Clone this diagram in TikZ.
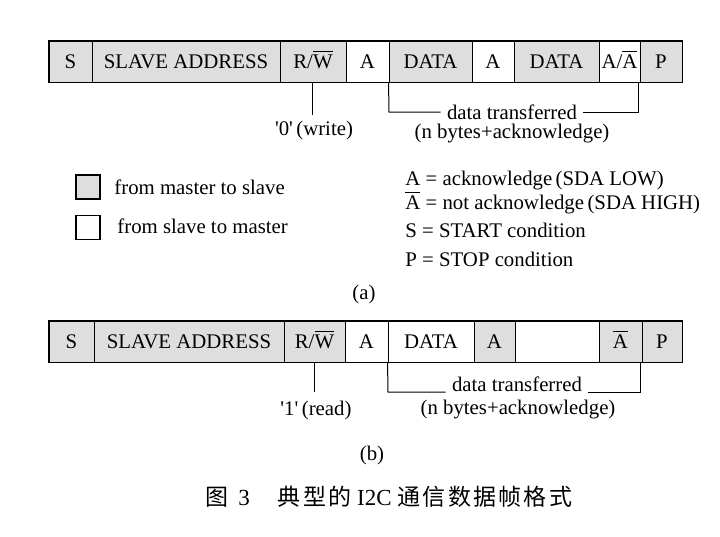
\documentclass[tikz,border=0pt]{standalone}
\usepackage{fontspec}
\setmainfont{Liberation Serif}
\newfontfamily\cjk[LetterSpace=10]{Noto Sans CJK SC}
\definecolor{cellgray}{RGB}{222,222,222}
\tikzset{
  cell/.style={draw, line width=0.45pt, minimum height=20.5pt, inner sep=0pt, anchor=center, text height=8pt, text depth=1.5pt, font=\fontsize{10.4}{12}\selectfont},
  gr/.style={fill=cellgray},
  wh/.style={fill=white},
  frame/.style={draw, line width=0.8pt},
  lbl/.style={inner sep=0pt, text height=7pt, text depth=2pt, font=\fontsize{10.4}{12}\selectfont},
  brk/.style={line width=0.5pt},
  legbox/.style={draw, line width=0.7pt, minimum size=12pt, inner sep=0pt},
}
\newcommand{\ov}[1]{$\overline{\mbox{#1}}$}
\begin{document}
\begin{tikzpicture}[x=0.5pt,y=-0.5pt]
\useasboundingbox (0,0) rectangle (720,537);
% ---- row (a)
\node[cell,gr,minimum width=21.5pt] (aS)  at (70.5,61.5) {S};
\node[cell,gr,minimum width=94pt]   (aSA) at (186,61.5) {SLAVE ADDRESS};
\node[cell,gr,minimum width=33pt]   (aRW) at (313,61.5) {R/\ov{W}};
\node[cell,wh,minimum width=21.5pt] (aA1) at (367.5,61.5) {A};
\node[cell,gr,minimum width=41.5pt] (aD1) at (430.5,61.5) {DATA};
\node[cell,wh,minimum width=21pt]   (aA2) at (493,61.5) {A};
\node[cell,gr,minimum width=42.5pt] (aD2) at (556.5,61.5) {DATA};
\node[cell,wh,minimum width=20.5pt] (aAA) at (619.5,61.5) {A/\ov{A}};
\node[cell,gr,minimum width=21pt]   (aP)  at (661,61.5) {P};
\draw[frame] (aS.north west) rectangle (aP.south east);
% stem + label
\draw[brk] (aRW.south) -- ++(0,33);
\node[lbl] (aW) at (314,130) {\textquotesingle0\textquotesingle\,(write)};
% bracket
\coordinate (aBL) at (389,112);
\coordinate (aBR) at (639,112);
\node[lbl, inner xsep=3pt] (aDT) at (512,114) {data transferred};
\node[lbl] (aNB) at (512,133) {(n bytes+acknowledge)};
\draw[brk] (aD1.south west) -- (aBL) -- (aDT.west |- aBL);
\draw[brk] (aDT.east |- aBR) -- (aBR) -- (aBR |- aAA.south);
% legend
\node[legbox, fill=cellgray] (lg1) at (88,187) {};
\node[legbox, fill=white]    (lg2) at (88,227.5) {};
\node[lbl, anchor=west] (lt1) at (114,189) {from master to slave};
\node[lbl, anchor=west] (lt2) at (117,228) {from slave to master};
\node[lbl, anchor=west] (k1) at (405,180) {A = acknowledge\,(SDA LOW)};
\node[lbl, anchor=west] (k2) at (405,204) {\ov{A} = not acknowledge\,(SDA HIGH)};
\node[lbl, anchor=west] (k3) at (405,232) {S = START condition};
\node[lbl, anchor=west] (k4) at (405,261) {P = STOP condition};
\node[lbl] (capa) at (364,294) {(a)};
% ---- row (b)
\node[cell,gr,minimum width=22.5pt] (bS)  at (71.5,341.5) {S};
\node[cell,gr,minimum width=95pt]   (bSA) at (189,341.5) {SLAVE ADDRESS};
\node[cell,gr,minimum width=30.5pt] (bRW) at (314.5,341.5) {R/\ov{W}};
\node[cell,wh,minimum width=21.5pt] (bA1) at (366.5,341.5) {A};
\node[cell,wh,minimum width=43pt]   (bD)  at (431,341.5) {DATA};
\node[cell,gr,minimum width=20.5pt] (bA2) at (494.5,341.5) {A};
\node[cell,wh,minimum width=42pt]   (bE)  at (557,341.5) {};
\node[cell,gr,minimum width=21.5pt] (bNA) at (620.5,341.5) {\ov{A}};
\node[cell,gr,minimum width=20pt]   (bP)  at (662,341.5) {P};
\draw[frame] (bS.north west) rectangle (bP.south east);
\draw[brk] (bRW.south) -- ++(0,30);
\node[lbl] (bR) at (316,410) {\textquotesingle1\textquotesingle\,(read)};
\coordinate (bBL) at (388,392);
\coordinate (bBR) at (641,392);
\node[lbl, inner xsep=3pt] (bDT) at (517,386) {data transferred};
\node[lbl] (bNB) at (518,409) {(n bytes+acknowledge)};
\draw[brk] (bD.south west) -- (bBL) -- (bDT.west |- bBL);
\draw[brk] (bDT.east |- bBR) -- (bBR) -- (bBR |- bNA.south);
\node[lbl] (capb) at (372,455) {(b)};
% caption
\node[inner sep=0pt, font=\fontsize{11.5}{13}\selectfont] (cap) at (389,497) {{\cjk 图}~\,3\hspace{14pt}{\cjk 典型的}~I2C~{\cjk 通信数据帧格式}};
\end{tikzpicture}
\end{document}
